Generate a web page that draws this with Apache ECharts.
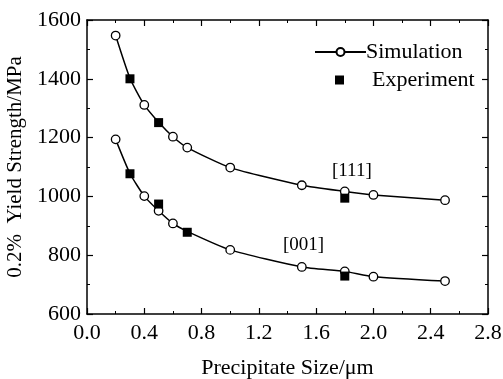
<!DOCTYPE html>
<html>
<head>
<meta charset="utf-8">
<script src="https://cdn.jsdelivr.net/npm/echarts@6/dist/echarts.min.js"></script>
<style>
  html, body { margin: 0; padding: 0; background: #fff; }
  #chart { width: 503px; height: 379px; }
</style>
</head>
<body>
<div id="chart"></div>
<script>
// simulation curves (size in um, strength in MPa)
const simSize = [0.2, 0.3, 0.4, 0.5, 0.6, 0.7, 1.0, 1.5, 1.8, 2.0, 2.5];
const sim111 = [1547, 1402, 1311, 1252, 1203, 1166, 1098, 1038, 1017, 1005, 987];
const sim001 = [1194, 1078, 1001, 951, 908, 881, 818, 760, 745, 727, 712];
// which simulation points show a circle (others sit under an experiment square)
const show111 = [true, false, true, false, true, true, true, true, true, true, true];
const show001 = [true, false, true, true, true, false, true, true, true, true, true];

// experiment points
const exp111Size = [0.3, 0.5, 1.8];
const exp111 = [1400, 1251, 994];
const exp001Size = [0.3, 0.5, 0.7, 1.8];
const exp001 = [1077, 974, 878, 729];

const FONT = "Liberation Serif";

const pair = (xs, ys) => xs.map((x, i) => [x, ys[i]]);
const simData = (ys, show) => simSize.map((x, i) => ({
  value: [x, ys[i]],
  symbolSize: show[i] ? 8.5 : 0,
}));

const chart = echarts.init(document.getElementById("chart"), null, { renderer: "canvas" });

const axisCommon = {
  axisLine: { show: true, onZero: false, lineStyle: { color: "#000", width: 1.5 } },
  axisTick: { show: true, inside: true, length: 6, lineStyle: { color: "#000", width: 1.2 } },
  minorTick: { show: true, splitNumber: 2, length: 3, lineStyle: { color: "#000", width: 1 } },
  splitLine: { show: false },
};

const legendText = { fontFamily: FONT, fontSize: 22, color: "#000" };

const option = {
  animation: false,
  backgroundColor: "#fff",
  grid: { left: 87, right: 15, top: 20, bottom: 65, containLabel: false, outerBoundsMode: "none" },
  legend: [
    {
      left: 309,
      top: 36,
      itemWidth: 51,
      itemHeight: 10,
      itemGap: 0,
      textStyle: { ...legendText, padding: [0, 0, 0, -5] },
      data: ["Simulation"],
    },
    {
      left: 330,
      top: 64,
      itemWidth: 9,
      itemHeight: 9,
      textStyle: { ...legendText, padding: [0, 0, 0, 23] },
      data: [{ name: "Experiment", icon: "rect", itemStyle: { color: "#000", opacity: 1 } }],
    },
  ],
  xAxis: [
    {
      ...axisCommon,
      type: "value",
      min: 0,
      max: 2.8,
      interval: 0.4,
      name: "Precipitate Size/\u03bcm",
      nameLocation: "middle",
      nameGap: 43,
      nameTextStyle: { fontFamily: FONT, fontSize: 22, color: "#000" },
      axisLabel: {
        fontFamily: FONT, fontSize: 22, color: "#000", margin: 8,
        formatter: (v) => v.toFixed(1),
      },
    },
    {
      ...axisCommon,
      type: "value",
      position: "top",
      min: 0,
      max: 2.8,
      interval: 0.4,
      axisLabel: { show: false },
    },
  ],
  yAxis: [
    {
      ...axisCommon,
      type: "value",
      min: 600,
      max: 1600,
      interval: 200,
      name: "0.2%  Yield Strength/MPa",
      nameLocation: "middle",
      nameGap: 52,
      nameTextStyle: { fontFamily: FONT, fontSize: 21, color: "#000" },
      axisLabel: {
        fontFamily: FONT, fontSize: 22, color: "#000", margin: 6,
        formatter: (v) => String(v),
      },
    },
    {
      ...axisCommon,
      type: "value",
      position: "right",
      min: 600,
      max: 1600,
      interval: 200,
      axisLabel: { show: false },
    },
  ],
  series: [
    {
      name: "Simulation",
      type: "line",
      smooth: 0.2,
      data: simData(sim111, show111),
      symbol: "circle",
      symbolSize: 8.5,
      lineStyle: { color: "#000", width: 1.5 },
      itemStyle: { color: "#fff", borderColor: "#000", borderWidth: 1.3 },
      z: 2,
    },
    {
      name: "Simulation",
      type: "line",
      smooth: 0.2,
      data: simData(sim001, show001),
      symbol: "circle",
      symbolSize: 8.5,
      lineStyle: { color: "#000", width: 1.5 },
      itemStyle: { color: "#fff", borderColor: "#000", borderWidth: 1.3 },
      z: 2,
    },
    {
      name: "Experiment",
      type: "scatter",
      data: pair(exp111Size, exp111),
      symbol: "rect",
      symbolSize: 9,
      itemStyle: { color: "#000", opacity: 1 },
      z: 3,
    },
    {
      name: "Experiment",
      type: "scatter",
      data: pair(exp001Size, exp001),
      symbol: "rect",
      symbolSize: 9,
      itemStyle: { color: "#000", opacity: 1 },
      z: 3,
    },
  ],
  graphic: [
    { type: "text", left: 332, top: 162, style: { text: "[111]", font: "19px " + FONT, fill: "#000" } },
    { type: "text", left: 283, top: 236, style: { text: "[001]", font: "19px " + FONT, fill: "#000" } },
  ],
};

chart.setOption(option);
</script>
</body>
</html>
